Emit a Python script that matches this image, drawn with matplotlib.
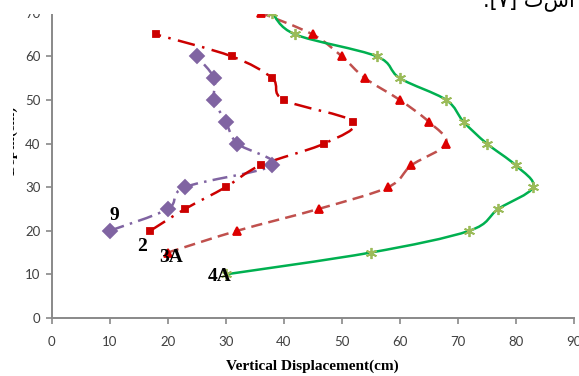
import numpy as np
import matplotlib
matplotlib.use("Agg")
import matplotlib.pyplot as plt
from matplotlib.path import Path
from matplotlib.patches import PathPatch, Rectangle

# depth levels (cm) and vertical displacement (cm) per test
y_9 = [20, 25, 30, 35, 40, 45, 50, 55, 60]
x_9 = [10, 20, 23, 38, 32, 30, 28, 28, 25]

y_2 = [20, 25, 30, 35, 40, 45, 50, 55, 60, 65]
x_2 = [17, 23, 30, 36, 47, 52, 40, 38, 31, 18]

y_3a = [15, 20, 25, 30, 35, 40, 45, 50, 55, 60, 65, 70]
x_3a = [20, 32, 46, 58, 62, 68, 65, 60, 54, 50, 45, 36]

y_4a = [10, 15, 20, 25, 30, 35, 40, 45, 50, 55, 60, 65, 70]
x_4a = [30, 55, 72, 77, 83, 80, 75, 71, 68, 60, 56, 42, 38]

xticks = list(range(0, 100, 10))
yticks = list(range(0, 80, 10))


def smooth_path(xs, ys):
    # excel-like smoothed line: catmull-rom converted to cubic bezier
    pts = np.column_stack([xs, ys]).astype(float)
    n = len(pts)
    verts = [pts[0]]
    codes = [Path.MOVETO]
    for i in range(n - 1):
        p0 = pts[i - 1] if i > 0 else pts[i]
        p1 = pts[i]
        p2 = pts[i + 1]
        p3 = pts[i + 2] if i + 2 < n else pts[i + 1]
        c1 = p1 + (p2 - p0) / 6.0
        c2 = p2 - (p3 - p1) / 6.0
        verts += [c1, c2, p2]
        codes += [Path.CURVE4] * 3
    return Path(verts, codes)


fig = plt.figure(figsize=(5.79, 3.76), dpi=100)
ax = fig.add_axes([0.0893, 0.1543, 0.9016, 0.928])

series = [
    (x_9, y_9, "#8064A2", (0, (6, 2.5, 1, 2.5)), "D", 7, "#8064A2"),
    (x_2, y_2, "#CC0000", (0, (7, 3, 1, 3)), "s", 4, "#CC0000"),
    (x_3a, y_3a, "#C0504D", (0, (4.5, 2.5)), "^", 6, "#DD0000"),
    (x_4a, y_4a, "#00B050", "solid", (6, 2, 0), 8, "#9BBB59"),
]

for xs, ys, lc, ls, mk, ms, mc in series:
    patch = PathPatch(smooth_path(xs, ys), facecolor="none", edgecolor=lc,
                      linewidth=1.8, linestyle=ls, capstyle="butt")
    ax.add_patch(patch)
    ax.plot(xs, ys, linestyle="none", marker=mk, markersize=ms,
            color=mc, markeredgecolor=mc, markeredgewidth=1.3, zorder=3)

lab = dict(fontfamily="Liberation Serif", fontweight="bold", fontsize=14,
           ha="center", va="center", color="black")
ax.text(10.8, 23.4, "9", **lab)
ax.text(15.6, 16.5, "2", **lab)
ax.text(20.6, 13.8, "3A", **lab)
ax.text(29.0, 9.6, "4A", **lab)

ax.set_xlim(0, 90)
ax.set_ylim(0, 80)
ax.set_xticks(xticks)
ax.set_yticks(yticks)
for s in ["top", "right"]:
    ax.spines[s].set_visible(False)
for s in ["left", "bottom"]:
    ax.spines[s].set_color("#898989")
    ax.spines[s].set_linewidth(1.4)
ax.tick_params(direction="out", length=4, width=1.2, color="#898989",
               labelsize=9.5, labelcolor="#404040")
ax.tick_params(axis="x", pad=9)
ax.tick_params(axis="y", pad=4)
for t in ax.get_xticklabels() + ax.get_yticklabels():
    t.set_fontfamily("Lato")

ax.set_xlabel("Vertical Displacement(cm)", fontfamily="Liberation Serif",
              fontweight="bold", fontsize=11, labelpad=8)
fig.text(0.03, 0.628, "Depth(cm)", rotation=90, ha="right", va="center",
         fontfamily="Liberation Serif", fontweight="bold", fontsize=11)

# the chart is cropped on the page: white above the 70 level and at the left edge
fig.add_artist(Rectangle((0, 1 - 13.5 / 376), 1, 13.5 / 376, transform=fig.transFigure,
                         facecolor="white", edgecolor="none", zorder=5))
fig.add_artist(Rectangle((0, 0), 12.5 / 579, 1, transform=fig.transFigure,
                         facecolor="white", edgecolor="none", zorder=5))

# fragment of the page text above the chart
fig.text(0.993, 1 - 6 / 376, ".[۷] تسا", ha="right", va="baseline",
         fontfamily="DejaVu Sans", fontsize=15, zorder=6)

fig.savefig("out.png", dpi=100)
